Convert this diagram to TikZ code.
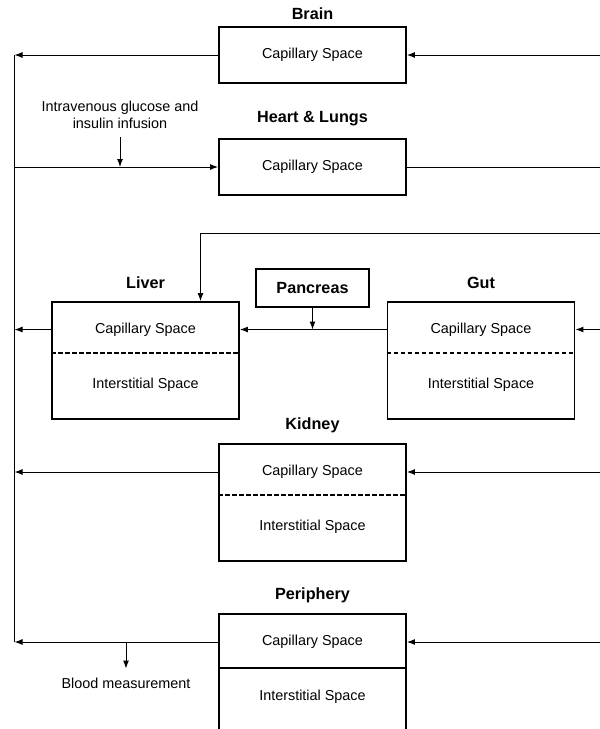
\documentclass[tikz,border=0pt]{standalone}
\usepackage{fontspec}
\setmainfont{Liberation Sans}
\usetikzlibrary{arrows.meta,positioning}

\begin{document}
\begin{tikzpicture}[x=1pt,y=-1pt,
  organ/.style={draw,line width=1.9pt,minimum width=187pt,inner sep=0pt},
  organname/.style={font=\fontsize{16.2}{19}\selectfont\bfseries,inner sep=0pt},
  spacetxt/.style={font=\fontsize{14.4}{17}\selectfont,inner sep=0pt},
  flow/.style={line width=1pt,-{Latex[length=8pt,width=6pt]}},
  plain/.style={line width=1pt},
  divider/.style={line width=1.6pt,dash pattern=on 4.5pt off 2.5pt}]
  \clip (0,0) rectangle (600,729);

  % bus and free ends
  \coordinate (bus) at (14.5,55);
  \coordinate (busend) at (14.5,642);
  \coordinate (redge) at (600,0);
  \coordinate (portal) at (600,233);

  % brain and heart
  \node[organ,minimum height=56pt] (brain) at (312.5,55) {};
  \node[spacetxt] at (brain) {Capillary Space};
  \node[organname] at (312.5,14) {Brain};
  \node[organ,minimum height=56pt] (heart) at (312.5,167) {};
  \node[spacetxt] at (heart) {Capillary Space};
  \node[organname] at (312.5,119) {Heart \& Lungs};
  \node[spacetxt,align=center,anchor=south] (infusion) at (120,129) {Intravenous glucose and\\insulin infusion};

  % liver, pancreas, gut
  \node[organ,minimum height=117pt] (liver) at (145.5,360.5) {};
  \node[spacetxt] (livercap) at (145.5,329.5) {Capillary Space};
  \node[spacetxt] at (145.5,385) {Interstitial Space};
  \draw[divider] (liver.west |- 0,353) -- (liver.east |- 0,353);
  \node[organname] at (145.5,283) {Liver};
  \node[organ,minimum width=113pt,minimum height=38pt,font=\fontsize{16.2}{19}\selectfont\bfseries] (pancreas) at (312.5,288) {Pancreas};
  \node[organ,minimum height=117pt] (gut) at (481,360.5) {};
  \node[spacetxt] (gutcap) at (481,329.5) {Capillary Space};
  \node[spacetxt] at (481,385) {Interstitial Space};
  \draw[divider] (gut.west |- 0,353) -- (gut.east |- 0,353);
  \node[organname] at (481,283) {Gut};

  % kidney
  \node[organ,minimum height=117pt] (kidney) at (312.5,502.5) {};
  \node[spacetxt] (kidneycap) at (312.5,472) {Capillary Space};
  \node[spacetxt] at (312.5,527) {Interstitial Space};
  \draw[divider] (kidney.west |- 0,495) -- (kidney.east |- 0,495);
  \node[organname] at (312.5,425) {Kidney};

  % periphery
  \node[organ,minimum height=132pt] (periphery) at (312.5,680) {};
  \node[spacetxt] (pericap) at (312.5,642) {Capillary Space};
  \node[spacetxt] at (312.5,697) {Interstitial Space};
  \draw[line width=1.9pt] (periphery.west |- 0,668) -- (periphery.east |- 0,668);
  \node[organname] at (312.5,595) {Periphery};
  \node[spacetxt] (blood) at (126,683) {Blood measurement};

  % connectors
  \draw[plain] (bus) -- (busend);
  \draw[flow] (brain.west) -- (bus);
  \draw[flow] (brain.east -| redge) -- (brain.east);
  \draw[flow] (bus |- heart.west) -- (heart.west);
  \draw[plain] (heart.east) -- (heart.east -| redge);
  \draw[flow] ([yshift=-8pt]infusion.south) -- (infusion.south |- heart.west);
  \draw[flow] (portal) -| ([xshift=55pt]liver.north);
  \draw[flow] (livercap -| liver.west) -- (livercap -| bus);
  \draw[flow] (gutcap -| gut.west) -- (livercap -| liver.east);
  \draw[flow] (pancreas.south) -- (pancreas.south |- livercap);
  \draw[flow] (gutcap -| redge) -- (gutcap -| gut.east);
  \draw[flow] (kidneycap -| kidney.west) -- (kidneycap -| bus);
  \draw[flow] (kidneycap -| redge) -- (kidneycap -| kidney.east);
  \draw[flow] (pericap -| periphery.west) -- (busend);
  \draw[flow] (pericap -| redge) -- (pericap -| periphery.east);
  \draw[flow] (blood.north |- pericap) -- ([yshift=9pt]blood.north);
\end{tikzpicture}
\end{document}
